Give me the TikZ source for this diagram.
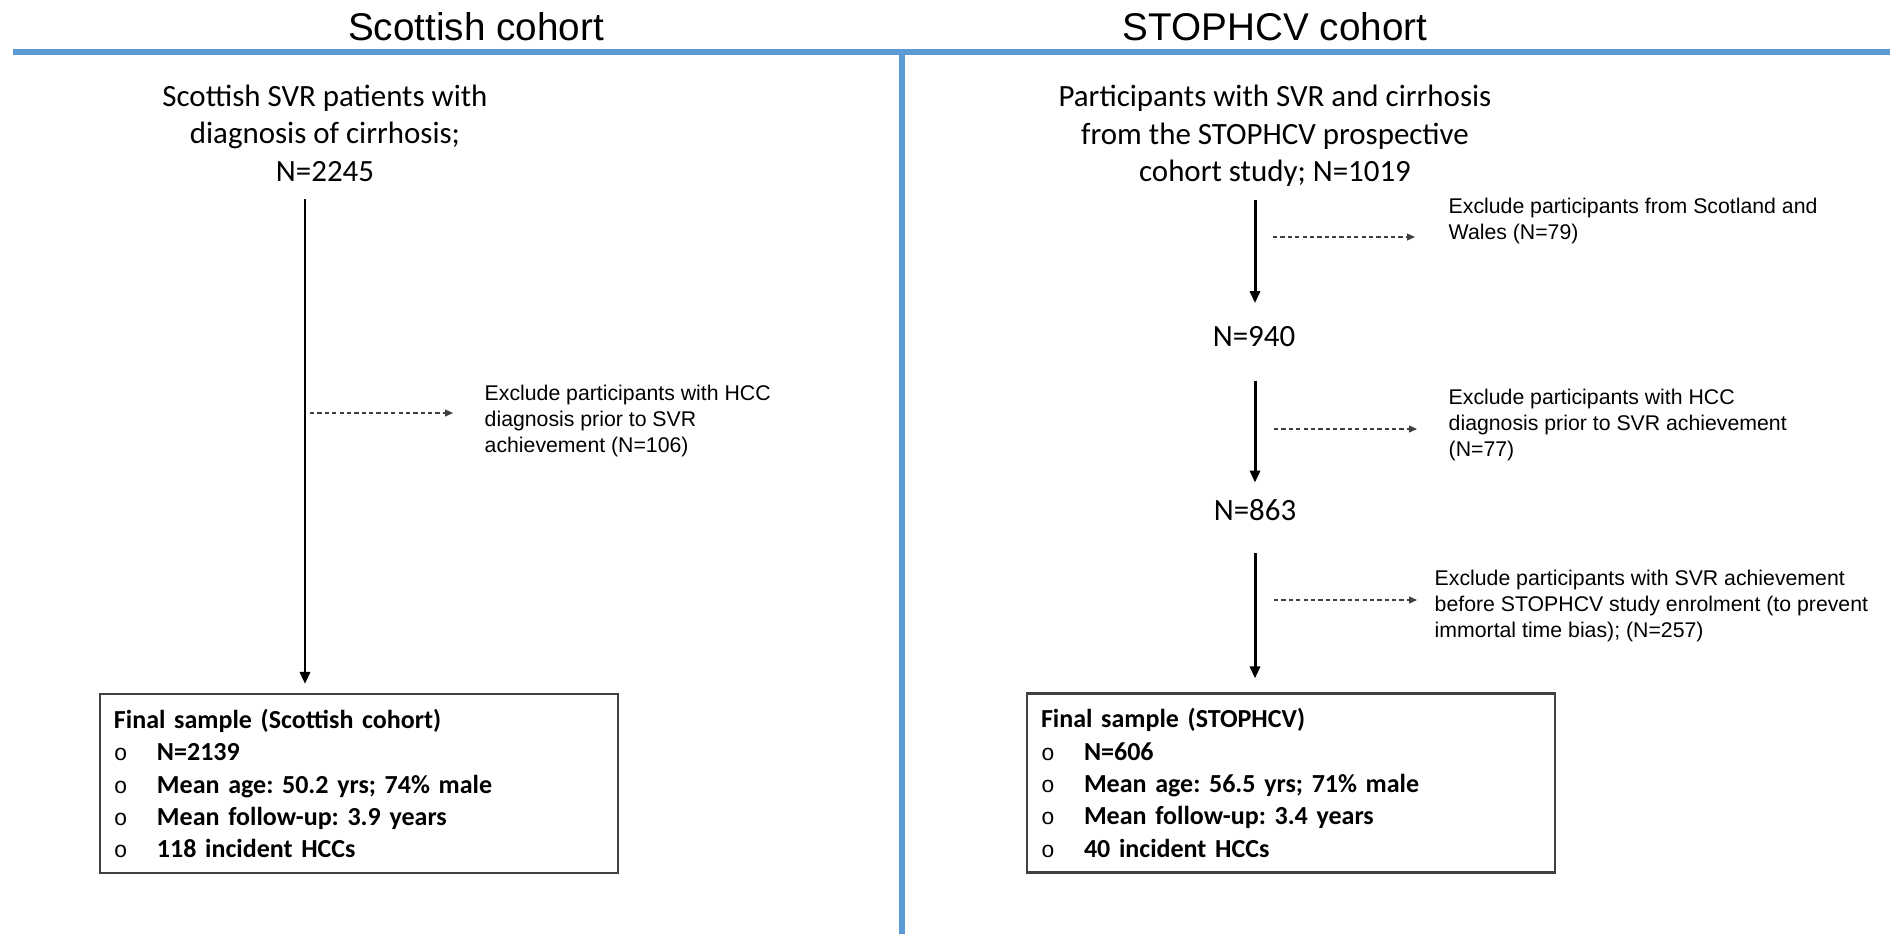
\documentclass[tikz,border=0pt]{standalone}
\usepackage{fontspec}
\setmainfont{Carlito}
\newfontfamily\arialfont{Liberation Sans}
\newfontfamily\courfont{Liberation Mono}
\usetikzlibrary{arrows.meta}
\frenchspacing

\definecolor{rulerblue}{RGB}{91,155,213}
\newcommand{\itm}[1]{\\\makebox[0.43cm][l]{{\courfont\mdseries\fontsize{6.5}{9}\selectfont o}}#1}

\tikzset{
  headtext/.style={font={\arialfont\fontsize{11}{13}\selectfont}, inner sep=0pt},
  cohorttext/.style={font={\fontsize{8.8}{10.67}\selectfont}, align=center, inner sep=0pt},
  extext/.style={font={\arialfont\fontsize{6.05}{7.3}\selectfont}, align=left, anchor=west, inner sep=0pt},
  finalbox/.style={draw=black!75, line width=0.6pt, align=left, text width=4.9cm,
    minimum height=1.79cm, inner xsep=0.14cm, font={\bfseries\fontsize{7.4}{9.2}\selectfont}},
  flow/.style={line width=0.85pt, -{Triangle[length=0.12cm, width=0.1cm]}},
  exflow/.style={black!75, line width=0.35pt, dash pattern=on 1.2pt off 0.9pt,
    -{Triangle[length=0.08cm, width=0.07cm]}},
}

\begin{document}
\begin{tikzpicture}
  \useasboundingbox (0,0) rectangle (18.9,-9.34);
  % column heads and blue rules
  \node[headtext] (headL) at (4.76,-0.27) {Scottish cohort};
  \node[headtext] (headR) at (12.75,-0.27) {STOPHCV cohort};
  \draw[rulerblue, line width=1.7pt] (0.13,-0.52) -- (18.9,-0.52);
  \draw[rulerblue, line width=1.7pt] (9.02,-0.52) -- (9.02,-9.34);
  \coordinate (colL) at (3.05,0);
  \coordinate (colR) at (12.55,0);

  % Scottish cohort
  \node[cohorttext] (src1) at (3.25,-1.33) {Scottish SVR patients with\\diagnosis of cirrhosis;\\N=2245};
  \node[finalbox] (box1) at (3.59,-7.835) {Final sample (Scottish cohort)\itm{N=2139}\itm{Mean age: 50.2 yrs; 74\% male}\itm{Mean follow-up: 3.9 years}\itm{118 incident HCCs}};
  \node[extext] (ex1) at (4.84,-4.21) {Exclude participants with HCC\\diagnosis prior to SVR\\achievement (N=106)};
  \draw[flow, shorten <=0.17cm, shorten >=0.09cm] (src1.south -| colL) -- (box1.north -| colL);
  \coordinate (d1) at (3.10,-4.13);
  \draw[exflow, shorten >=0.31cm] (d1) -- (d1 -| ex1.west);

  % STOPHCV cohort
  \node[cohorttext] (src2) at (12.75,-1.36) {Participants with SVR and cirrhosis\\from the STOPHCV prospective\\cohort study; N=1019};
  \node[cohorttext] (n940) at (12.54,-3.37) {N=940};
  \node[cohorttext] (n863) at (12.55,-5.10) {N=863};
  \node[finalbox, text width=5.0cm] (box2) at (12.91,-7.83) {Final sample (STOPHCV)\itm{N=606}\itm{Mean age: 56.5 yrs; 71\% male}\itm{Mean follow-up: 3.4 years}\itm{40 incident HCCs}};
  \node[extext] (exR1) at (14.48,-2.21) {Exclude participants from Scotland and\\Wales (N=79)};
  \node[extext] (exR2) at (14.48,-4.25) {Exclude participants with HCC\\diagnosis prior to SVR achievement\\(N=77)};
  \node[extext] (exR3) at (14.34,-6.06) {Exclude participants with SVR achievement\\before STOPHCV study enrolment (to prevent\\immortal time bias); (N=257)};
  \draw[flow, shorten <=0.13cm, shorten >=0.23cm] (src2.south -| colR) -- (n940.north -| colR);
  \draw[flow, shorten <=0.33cm, shorten >=0.16cm] (n940.south -| colR) -- (n863.north -| colR);
  \draw[flow, shorten <=0.32cm, shorten >=0.14cm] (n863.south -| colR) -- (box2.north -| colR);
  \coordinate (dR1) at (12.73,-2.37);
  \coordinate (dR2) at (12.74,-4.29);
  \coordinate (dR3) at (12.74,-6.00);
  \draw[exflow, shorten >=0.33cm] (dR1) -- (dR1 -| exR1.west);
  \draw[exflow, shorten >=0.31cm] (dR2) -- (dR2 -| exR2.west);
  \draw[exflow, shorten >=0.17cm] (dR3) -- (dR3 -| exR3.west);
\end{tikzpicture}
\end{document}
